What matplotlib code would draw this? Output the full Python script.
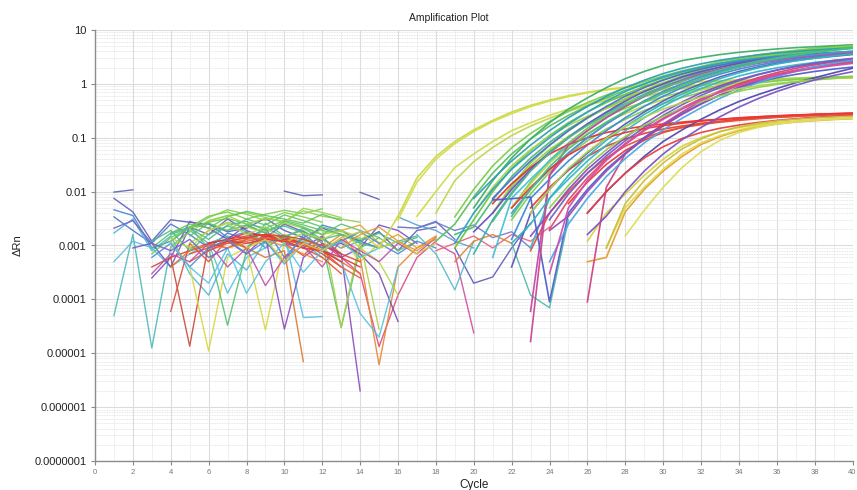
import matplotlib
matplotlib.use("Agg")
import matplotlib.pyplot as plt
import numpy as np

plt.rcParams['font.family'] = ['Liberation Sans', 'DejaVu Sans']

# axis ticks
x_ticks = list(range(0, 41, 2))
y_ticks = [1e-7, 1e-6, 1e-5, 1e-4, 1e-3, 1e-2, 1e-1, 1, 10]
y_tick_labels = ['0.0000001', '0.000001', '0.00001', '0.0001', '0.001',
                 '0.01', '0.1', '1', '10']

# amplification curves: first cycle, values per cycle
amp_start = [15, 16, 17, 18,
             19, 18, 20, 19, 19, 21, 20, 22,
             20, 21, 22, 22,
             21, 23, 25, 23,
             26, 26, 27, 28,
             19, 21, 20, 21, 23, 22, 22, 23, 23, 26, 21, 26, 20, 23,
             21, 22, 22, 24, 24, 24, 24, 26, 22, 23, 24, 24, 26, 27, 22]
amp_values = [
    [0.0009, 0.0035, 0.018, 0.045, 0.085, 0.14, 0.21, 0.30, 0.40, 0.50, 0.60, 0.70, 0.79,
     0.87, 0.94, 1.0, 1.05, 1.1, 1.14, 1.18, 1.21, 1.24, 1.26, 1.28, 1.30, 1.31],
    [0.003, 0.015, 0.040, 0.078, 0.13, 0.20, 0.28, 0.38, 0.48, 0.58, 0.68, 0.77, 0.85,
     0.92, 0.98, 1.04, 1.09, 1.13, 1.17, 1.2, 1.23, 1.25, 1.27, 1.29, 1.30],
    [0.0035, 0.010, 0.028, 0.050, 0.085, 0.135, 0.19, 0.26, 0.34, 0.43, 0.53, 0.63, 0.73,
     0.82, 0.90, 0.98, 1.05, 1.11, 1.16, 1.2, 1.24, 1.27, 1.29, 1.31],
    [0.004, 0.016, 0.036, 0.066, 0.11, 0.165, 0.23, 0.31, 0.40, 0.49, 0.59, 0.69, 0.78,
     0.86, 0.94, 1.01, 1.07, 1.12, 1.17, 1.21, 1.25, 1.28, 1.30],
    # green, high plateau
    [0.0034, 0.011, 0.030, 0.065, 0.12, 0.20, 0.31, 0.45, 0.62, 0.85, 1.1, 1.4, 1.75,
     2.1, 2.6, 3.0, 3.45, 3.85, 4.2, 4.6, 4.95, 5.3],
    [0.0012, 0.0025, 0.008, 0.022, 0.050, 0.095, 0.165, 0.26, 0.39, 0.55, 0.76, 1.0, 1.3,
     1.65, 2.0, 2.4, 2.8, 3.2, 3.6, 3.95, 4.3, 4.65, 5.0],
    [0.005, 0.016, 0.042, 0.095, 0.19, 0.34, 0.55, 0.85, 1.25, 1.7, 2.2, 2.7, 3.1, 3.5,
     3.85, 4.15, 4.45, 4.7, 4.9, 5.1, 5.3],
    [0.0009, 0.003, 0.010, 0.027, 0.058, 0.11, 0.19, 0.30, 0.45, 0.64, 0.90, 1.2, 1.55,
     1.95, 2.35, 2.8, 3.2, 3.6, 4.0, 4.35, 4.7, 5.0],
    [0.0016, 0.0022, 0.007, 0.019, 0.042, 0.082, 0.145, 0.235, 0.36, 0.52, 0.73, 0.98,
     1.3, 1.65, 2.05, 2.5, 2.9, 3.3, 3.7, 4.1, 4.5, 4.85],
    [0.004, 0.013, 0.034, 0.072, 0.135, 0.23, 0.36, 0.53, 0.76, 1.05, 1.4, 1.8, 2.25,
     2.7, 3.15, 3.6, 4.0, 4.4, 4.75, 5.1],
    [0.0007, 0.003, 0.0095, 0.025, 0.055, 0.105, 0.18, 0.29, 0.44, 0.64, 0.9, 1.2, 1.6,
     2.0, 2.45, 2.9, 3.3, 3.7, 4.05, 4.4, 4.7],
    [0.005, 0.015, 0.038, 0.08, 0.15, 0.25, 0.39, 0.58, 0.82, 1.12, 1.5, 1.9, 2.35, 2.8,
     3.25, 3.7, 4.1, 4.5, 4.85],
    # light green, plateau ~1.3
    [0.004, 0.012, 0.03, 0.06, 0.105, 0.17, 0.25, 0.35, 0.46, 0.58, 0.70, 0.82, 0.93,
     1.02, 1.1, 1.17, 1.23, 1.28, 1.32, 1.35, 1.37],
    [0.004, 0.012, 0.03, 0.06, 0.105, 0.17, 0.25, 0.35, 0.46, 0.58, 0.70, 0.82, 0.93,
     1.02, 1.1, 1.17, 1.23, 1.28, 1.32, 1.35],
    [0.005, 0.014, 0.034, 0.068, 0.12, 0.19, 0.28, 0.39, 0.51, 0.64, 0.77, 0.89, 0.99,
     1.08, 1.16, 1.23, 1.29, 1.33, 1.36],
    [0.003, 0.009, 0.023, 0.048, 0.088, 0.145, 0.22, 0.32, 0.43, 0.56, 0.69, 0.82, 0.94,
     1.04, 1.13, 1.21, 1.28, 1.33, 1.37],
    # red, plateau ~0.28
    [0.006, 0.014, 0.028, 0.05, 0.075, 0.10, 0.125, 0.145, 0.165, 0.18, 0.195, 0.21,
     0.22, 0.235, 0.245, 0.255, 0.262, 0.27, 0.276, 0.282],
    [0.005, 0.012, 0.025, 0.045, 0.07, 0.095, 0.12, 0.145, 0.165, 0.185, 0.2, 0.215,
     0.23, 0.24, 0.25, 0.26, 0.268, 0.275],
    [0.006, 0.015, 0.032, 0.058, 0.09, 0.125, 0.155, 0.18, 0.2, 0.22, 0.235, 0.25, 0.26,
     0.27, 0.278, 0.285],
    [0.0008, 0.004, 0.01, 0.022, 0.042, 0.07, 0.1, 0.13, 0.155, 0.175, 0.195, 0.21, 0.225,
     0.24, 0.25, 0.26, 0.27, 0.278],
    # late yellow / orange, plateau ~0.24
    [0.0012, 0.004, 0.009, 0.02, 0.04, 0.07, 0.1, 0.13, 0.155, 0.175, 0.19, 0.203, 0.214,
     0.223, 0.23],
    [0.0005, 0.0006, 0.0042, 0.011, 0.024, 0.045, 0.075, 0.105, 0.135, 0.16, 0.18, 0.196,
     0.208, 0.218, 0.226],
    [0.0009, 0.005, 0.012, 0.026, 0.05, 0.08, 0.11, 0.14, 0.165, 0.185, 0.2, 0.212, 0.222,
     0.23],
    [0.0015, 0.0045, 0.012, 0.028, 0.055, 0.09, 0.125, 0.155, 0.18, 0.198, 0.212, 0.222,
     0.23],
    # blue / cyan / purple / magenta
    [0.0011, 0.004, 0.011, 0.026, 0.052, 0.10, 0.18, 0.30, 0.48, 0.72, 1.0, 1.35, 1.7,
     2.05, 2.4, 2.7, 3.0, 3.25, 3.5, 3.7, 3.85, 4.0],
    [0.0075, 0.017, 0.037, 0.073, 0.135, 0.235, 0.38, 0.59, 0.85, 1.17, 1.52, 1.88,
     2.22, 2.55, 2.85, 3.12, 3.38, 3.6, 3.78, 3.93],
    [0.0018, 0.004, 0.011, 0.026, 0.052, 0.10, 0.18, 0.30, 0.48, 0.72, 1.0, 1.35, 1.7,
     2.05, 2.4, 2.7, 3.0, 3.25, 3.5, 3.7, 3.85],
    [0.0006, 0.0075, 0.017, 0.037, 0.073, 0.135, 0.235, 0.38, 0.59, 0.85, 1.17, 1.52,
     1.88, 2.22, 2.55, 2.85, 3.12, 3.38, 3.6, 3.78],
    [0.00006, 0.02, 0.052, 0.10, 0.18, 0.30, 0.48, 0.72, 1.0, 1.35, 1.7, 2.05, 2.4, 2.7,
     3.0, 3.25, 3.5, 3.7],
    [0.0013, 0.0075, 0.017, 0.037, 0.073, 0.135, 0.235, 0.38, 0.59, 0.85, 1.17, 1.52,
     1.88, 2.22, 2.55, 2.85, 3.12, 3.38, 3.6],
    [0.0004, 0.004, 0.011, 0.026, 0.052, 0.10, 0.18, 0.30, 0.48, 0.72, 1.0, 1.35, 1.7,
     2.05, 2.4, 2.7, 3.0, 3.25, 3.5],
    [0.0009, 0.0075, 0.017, 0.037, 0.073, 0.135, 0.235, 0.38, 0.58, 0.82, 1.1, 1.4, 1.7,
     1.98, 2.25, 2.5, 2.72, 2.9],
    [0.0015, 0.004, 0.011, 0.026, 0.052, 0.10, 0.18, 0.30, 0.46, 0.68, 0.92, 1.2, 1.5,
     1.8, 2.1, 2.38, 2.62, 2.85],
    [0.00009, 0.012, 0.05, 0.10, 0.18, 0.30, 0.48, 0.72, 1.0, 1.3, 1.62, 1.95, 2.25,
     2.55, 2.8],
    [0.007, 0.0074, 0.0079, 0.00009, 0.004, 0.011, 0.026, 0.052, 0.10, 0.17, 0.28, 0.43,
     0.62, 0.85, 1.08, 1.3, 1.5, 1.7, 1.88, 2.05],
    [0.004, 0.01, 0.022, 0.045, 0.085, 0.14, 0.22, 0.33, 0.47, 0.63, 0.82, 1.05, 1.3,
     1.6, 1.95],
    [0.0075, 0.017, 0.037, 0.073, 0.135, 0.235, 0.38, 0.59, 0.85, 1.17, 1.55, 1.95,
     2.35, 2.75, 3.1, 3.45, 3.75, 4.0, 4.25, 4.45, 4.6],
    [0.0000165, 0.02, 0.073, 0.135, 0.235, 0.38, 0.59, 0.85, 1.17, 1.52, 1.88, 2.22,
     2.55, 2.85, 3.12, 3.38, 3.6, 3.78],
    # more wells
    [0.0028, 0.009, 0.024, 0.052, 0.1, 0.17, 0.27, 0.41, 0.6, 0.84, 1.12, 1.45, 1.82,
     2.22, 2.65, 3.05, 3.45, 3.85, 4.2, 4.55],
    [0.004, 0.011, 0.026, 0.052, 0.10, 0.18, 0.30, 0.48, 0.72, 1.0, 1.35, 1.72, 2.1, 2.5,
     2.85, 3.2, 3.5, 3.8, 4.05],
    [0.0011, 0.0025, 0.0075, 0.02, 0.045, 0.09, 0.16, 0.27, 0.43, 0.65, 0.92, 1.25, 1.6,
     1.97, 2.33, 2.68, 3.0, 3.3, 3.58],
    [0.003, 0.009, 0.022, 0.046, 0.088, 0.155, 0.26, 0.41, 0.61, 0.86, 1.15, 1.47, 1.8,
     2.12, 2.43, 2.72, 2.98],
    [0.0019, 0.0035, 0.01, 0.024, 0.05, 0.095, 0.165, 0.27, 0.42, 0.62, 0.87, 1.15, 1.45,
     1.75, 2.05, 2.33, 2.6],
    [0.002, 0.007, 0.018, 0.04, 0.078, 0.14, 0.23, 0.36, 0.53, 0.74, 0.98, 1.25, 1.52,
     1.8, 2.05, 2.3, 2.5],
    [0.0005, 0.0025, 0.0075, 0.019, 0.041, 0.08, 0.14, 0.23, 0.36, 0.54, 0.77, 1.05,
     1.37, 1.72, 2.08, 2.42, 2.75],
    [0.004, 0.01, 0.022, 0.042, 0.068, 0.097, 0.125, 0.15, 0.172, 0.192, 0.21, 0.226,
     0.24, 0.252, 0.262],
    [0.005, 0.012, 0.026, 0.048, 0.075, 0.1, 0.125, 0.148, 0.168, 0.186, 0.203, 0.218,
     0.232, 0.244, 0.255, 0.265, 0.273, 0.28, 0.286],
    [0.004, 0.011, 0.027, 0.055, 0.098, 0.16, 0.24, 0.34, 0.45, 0.57, 0.69, 0.81, 0.92,
     1.02, 1.11, 1.19, 1.26, 1.32],
    [0.005, 0.013, 0.03, 0.06, 0.105, 0.17, 0.25, 0.35, 0.47, 0.6, 0.73, 0.86, 0.98,
     1.09, 1.19, 1.27, 1.34],
    [0.0003, 0.005, 0.016, 0.038, 0.075, 0.135, 0.22, 0.34, 0.5, 0.7, 0.93, 1.18, 1.44,
     1.7, 1.95, 2.18, 2.4],
    [0.0016, 0.0035, 0.01, 0.024, 0.05, 0.092, 0.155, 0.245, 0.37, 0.53, 0.72, 0.94,
     1.18, 1.43, 1.68],
    [0.0009, 0.006, 0.016, 0.034, 0.062, 0.095, 0.13, 0.16, 0.185, 0.205, 0.22, 0.232,
     0.242, 0.25],
    [0.0035, 0.011, 0.029, 0.062, 0.115, 0.195, 0.31, 0.46, 0.66, 0.92, 1.25, 1.62, 2.05,
     2.5, 2.95, 3.4, 3.85, 4.25, 4.65],
]
amp_colors = ['#c9d94c', '#d4dc48', '#cfdc4a', '#c2d650',
              '#7ccf50', '#5cc060', '#3fae6a', '#66c83c', '#4dba7a', '#8ad248', '#39b0a0', '#6cc858',
              '#a6d64a', '#94d050', '#b8da46', '#7fcc5a',
              '#e8322c', '#e0402a', '#ec3a36', '#e5533a',
              '#d8d23c', '#e0a030', '#e6d84a', '#dede5a',
              '#2fa0c8', '#4a6fd0', '#6a4fc0', '#45c0d8', '#c04aa8', '#3c8ad8', '#5a5ab8',
              '#38b4c8', '#8a4cc0', '#d04080', '#4f60c8', '#5048b0', '#2e9fb0', '#c84890',
              '#52b890', '#3e9ed8', '#2fb8c0', '#6a62c8', '#9a4cb8', '#e04a6a', '#4ca8e0',
              '#e84040', '#ee3434', '#aed64c', '#8ccf54', '#d24ab0', '#7a54c4', '#c8c040',
              '#46c07a']

# baseline noise fragments: first cycle, values per cycle
noise_start = [1, 10, 14, 1, 1, 1, 1, 1, 1, 2, 3, 3, 4, 4, 3, 6, 12, 11, 7, 13, 12, 10,
               4, 4, 5, 3, 5, 4, 4, 5, 4, 6, 5, 13, 14, 16, 16, 18, 19, 17, 22,
               5, 4, 6, 3, 7, 4, 6, 5, 7, 3, 3, 4, 1, 8, 13, 17, 18, 19]
noise_values = [
    [0.0098, 0.0108],
    [0.0102, 0.0084, 0.0087],
    [0.0097, 0.0072],
    [0.0075, 0.0042, 0.0012, 0.003, 0.0027, 0.0025, 0.0018, 0.0021, 0.0032, 0.0019, 0.0014,
     0.0021, 0.0016, 0.0012, 0.0009],
    [0.0046, 0.0036, 0.0009, 0.0012, 0.0022, 0.0026, 0.0014, 0.0018, 0.0009, 0.0015, 0.0011,
     0.0024, 0.0019, 0.0012],
    [0.0034, 0.0019, 0.0011, 0.0025, 0.0016, 0.0009, 0.0017, 0.0013, 0.0021, 0.0006, 0.0014,
     0.0009, 0.0011],
    [0.00005, 0.0016, 0.0000125, 0.00094, 0.0019, 0.0011, 0.0015, 0.0009, 0.0022, 0.0014,
     0.0012, 0.0008, 0.0013],
    [0.0017, 0.0031, 0.0008, 0.0015, 0.0003, 0.00012, 0.0007, 0.00035, 0.0012, 0.00045,
     0.0011, 0.0006],
    [0.0005, 0.0012, 0.0009, 0.0004, 0.0007, 0.0011, 0.00013, 0.0006, 0.0009, 0.0016,
     0.000046, 0.000048],
    [0.0009, 0.0011, 0.0004, 0.0022, 0.0016, 0.0031, 0.0019, 0.0014, 0.0025, 0.0018, 0.0012],
    [0.00025, 0.0006, 0.0028, 0.0021, 0.0013, 0.0024, 0.0017, 0.0011, 0.0009, 0.0015,
     0.0006, 0.0009, 0.0024, 0.0019, 0.0011],
    [0.0004, 0.0006, 0.0000135, 0.0011, 0.0009, 0.0013],
    [0.00006, 0.0011, 0.0005, 0.0013, 0.0009, 0.0016, 0.0011, 0.00065, 0.0014, 0.0007],
    [0.0012, 0.0004, 0.000011, 0.0006, 0.0009, 0.000027, 0.0012, 0.0017, 0.0008, 0.0014,
     0.0005, 0.0011],
    [0.0009, 0.0017, 0.0022, 0.0009, 0.000033, 0.0008, 0.0026, 0.0015, 0.0019, 0.0011,
     0.00003, 0.0009, 0.0014],
    [0.0008, 0.0012, 0.0007, 0.0015, 0.000028, 0.0006, 0.0011, 0.0007, 0.000002],
    [0.0011, 0.0006, 0.0003, 0.0000133, 0.00012, 0.0006, 0.0012],
    [0.0013, 0.0009, 0.0016, 0.0006, 0.0000061, 0.0004, 0.0009, 0.0015],
    [0.0012, 0.0009, 0.0006, 0.0008, 0.000007],
    [0.0011, 0.0007, 0.0003, 0.000039],
    [0.0009, 0.0005, 0.000055, 0.00002, 0.0004],
    [0.0016, 0.0011, 0.0021, 0.00003, 0.0012, 0.000028],
    [0.0012, 0.0022, 0.0035, 0.0042, 0.0031, 0.0038, 0.0045, 0.0039, 0.0048],
    [0.0009, 0.0018, 0.0029, 0.0036, 0.0041, 0.0033, 0.0028, 0.0044, 0.0035, 0.0031, 0.0027],
    [0.0015, 0.0026, 0.0019, 0.0031, 0.0024, 0.0037, 0.0029, 0.0022, 0.0018],
    [0.0007, 0.0014, 0.0021, 0.0027, 0.0032, 0.0025, 0.0021, 0.0029, 0.0024, 0.0019,
     0.0016, 0.0013, 0.0018],
    [0.0011, 0.0019, 0.0027, 0.0022, 0.0018, 0.0026, 0.0021, 0.0016, 0.0019, 0.0014],
    [0.0016, 0.0021, 0.0013, 0.0024, 0.0028, 0.0019, 0.0023, 0.0017, 0.0013, 0.0016,
     0.0011, 0.0009, 0.0012, 0.0015],
    [0.0006, 0.0008, 0.0011, 0.0013, 0.0015, 0.0016, 0.0014, 0.0011, 0.0007, 0.0004],
    [0.0007, 0.0009, 0.0012, 0.0014, 0.0013, 0.0012, 0.0009, 0.0006, 0.0003],
    [0.0004, 0.0008, 0.0010, 0.0011, 0.0013, 0.0014, 0.0013, 0.0010, 0.0008, 0.0005, 0.0003],
    [0.0011, 0.0013, 0.0017, 0.0015, 0.0013, 0.0011, 0.0008, 0.0006, 0.0004],
    [0.0009, 0.0010, 0.0009, 0.0011, 0.0012, 0.0010, 0.0007, 0.0005],
    [0.0019, 0.0024, 0.0011, 0.0016, 0.0009, 0.0013],
    [0.0012, 0.0018, 0.0008, 0.0019, 0.0022],
    [0.0034, 0.0024, 0.0019, 0.0012, 0.0009],
    [0.0022, 0.0021, 0.0028, 0.0013],
    [0.0011, 0.0007, 0.000024],
    [0.0009, 0.0002, 0.00026, 0.0009, 0.0026],
    [0.0016, 0.0007, 0.00015, 0.0012],
    [0.0011, 0.00012, 0.00007, 0.003],
    # denser baseline
    [0.0021, 0.0033, 0.0046, 0.0038, 0.0029, 0.0041, 0.0034, 0.0027],
    [0.0017, 0.0025, 0.0021, 0.0034, 0.0043, 0.0036, 0.0031, 0.0026, 0.0038, 0.0029],
    [0.0028, 0.0036, 0.0025, 0.0032, 0.0027, 0.0049, 0.0041, 0.0033],
    [0.0012, 0.0019, 0.0008, 0.0016, 0.0023, 0.0018, 0.0011, 0.0014, 0.0021, 0.0013,
     0.0009, 0.0012, 0.0017, 0.0011, 0.0014],
    [0.0019, 0.0024, 0.0017, 0.0028, 0.0022, 0.0016, 0.0025, 0.0019, 0.0014, 0.0008, 0.0012],
    [0.0014, 0.0009, 0.0019, 0.0026, 0.0016, 0.0022, 0.0011, 0.0017, 0.0013, 0.0019,
     0.0009, 0.0005, 0.00012],
    [0.0009, 0.0012, 0.0014, 0.0016, 0.0015, 0.0013, 0.0010, 0.0007, 0.0005],
    [0.0005, 0.0008, 0.0011, 0.0012, 0.0014, 0.0012, 0.0011, 0.0008, 0.0004, 0.00025],
    [0.0012, 0.0011, 0.0013, 0.0012, 0.0009, 0.0008, 0.0005],
    [0.0006, 0.0011, 0.0004, 0.0009, 0.0013, 0.0007, 0.0012, 0.0005, 0.0016, 0.0009,
     0.0012, 0.0018, 0.0011, 0.0007, 0.0012, 0.0009],
    [0.0003, 0.0007, 0.0005, 0.0011, 0.0004, 0.0009, 0.00018, 0.0006, 0.001, 0.0004,
     0.0013, 0.0008, 0.0005, 0.0011, 0.0007, 0.0014],
    [0.0011, 0.0004, 0.0002, 0.0009, 0.00013, 0.0005, 0.0011, 0.00032, 0.0008, 0.0012,
     0.0006, 0.0009],
    [0.0021, 0.0029, 0.0011, 0.0008, 0.0013, 0.0006, 0.0009],
    [0.0009, 0.0013, 0.0005, 0.0011, 0.0008, 0.0014, 0.0018, 0.0009, 0.0012, 0.0007, 0.0011],
    [0.0009, 0.0016, 0.0022, 0.0012, 0.0008, 0.0014],
    [0.0021, 0.0027, 0.0019, 0.0024, 0.0014, 0.0018, 0.0009],
    [0.0008, 0.0011, 0.0015, 0.0009, 0.0016, 0.0012, 0.0022],
    [0.0005, 0.0012, 0.0016, 0.0011],
]
noise_colors = ['#5b5fb5', '#5b5fb5', '#5b5fb5', '#5b5fb5', '#3f88d0', '#4a78c8', '#4fb8b8',
                '#4bb7dc', '#5ac0d8', '#6a58c0', '#7b4fc0', '#c84a3a', '#d8503c', '#d8d640',
                '#58c070', '#8a4ab8', '#d84a8a', '#e8862e', '#d87830', '#7a4aa8', '#58c0dc',
                '#a8d048', '#74cc50', '#8ed44a', '#5cc468', '#66c85a', '#9cd048', '#48b890',
                '#e83a2c', '#e0502c', '#ec6a30', '#e23030', '#f08a34', '#e8a030', '#5b5fb5',
                '#5aa0d0', '#6068b8', '#d04aa0', '#5a58b8', '#58b8c8', '#4ab8a8',
                '#7ed04c', '#62c45c', '#98d24c', '#4cbc8c', '#5fc468', '#b4d646', '#e4402e',
                '#e85a34', '#dc3a3a', '#4d8cd6', '#c050a8', '#55c2e0', '#7a5cc8', '#d8c840',
                '#e29a38', '#6a7ad0', '#e6607a', '#e07a30']

fig = plt.figure(figsize=(8.57, 4.9), dpi=100)
ax = fig.add_axes([95 / 857, 29 / 490, 757.5 / 857, 431 / 490])

for s, v, c in zip(noise_start, noise_values, noise_colors):
    ax.plot(np.arange(s, s + len(v)), v, color=c, lw=1.0, alpha=0.9)
for s, v, c in zip(amp_start, amp_values, amp_colors):
    ax.plot(np.arange(s, s + len(v)), v, color=c, lw=1.2, alpha=0.95)

ax.set_yscale('log')
ax.set_xlim(0, 40)
ax.set_ylim(1e-7, 10)
ax.set_xticks(x_ticks)
ax.set_xticklabels([str(t) for t in x_ticks], fontsize=5.5, color='#777777')
ax.set_yticks(y_ticks)
ax.set_yticklabels(y_tick_labels, fontsize=8, color='#222222')
ax.set_xticks(np.arange(0, 41, 1), minor=True)
ax.yaxis.set_minor_locator(matplotlib.ticker.LogLocator(base=10, subs=np.arange(2, 10)))
ax.yaxis.set_minor_formatter(matplotlib.ticker.NullFormatter())
ax.tick_params(axis='both', which='major', length=3, width=0.8, color='#888888', pad=3)
ax.tick_params(axis='both', which='minor', length=0)

ax.grid(True, which='major', color='#dcdcdc', lw=0.8)
ax.grid(True, which='minor', color='#dedede', lw=0.6, linestyle=(0, (1, 1)))
ax.set_axisbelow(True)
for side in ['top', 'right']:
    ax.spines[side].set_visible(False)
for side in ['left', 'bottom']:
    ax.spines[side].set_color('#8c8c8c')
    ax.spines[side].set_linewidth(1.0)

ax.set_xlabel('Cycle', fontsize=8.5, color='#222222', labelpad=2)
ax.set_ylabel('ΔRn', fontsize=8, color='#222222')
ax.yaxis.set_label_coords(-0.096, 0.5)
fig.text(449 / 857, 1 - 18 / 490, 'Amplification Plot', fontsize=7.5, color='#222222',
         ha='center', va='center')

fig.savefig('out.png', dpi=100)
